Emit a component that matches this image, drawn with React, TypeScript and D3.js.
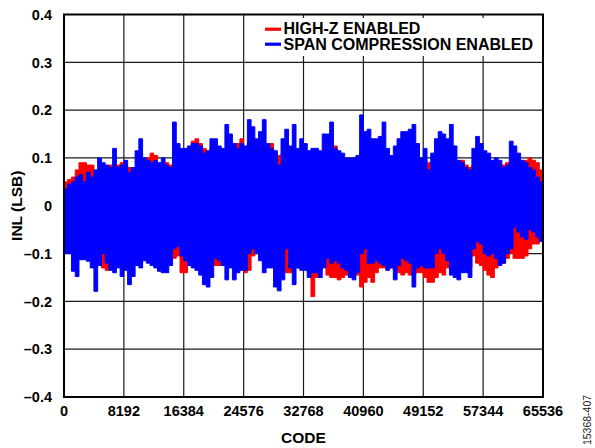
import React from "react";
import * as d3 from "d3";

// ---- data (min/max envelope per 512-code bin) ----
const BIN_SIZE = 512;
const xTicks = [0, 8192, 16384, 24576, 32768, 40960, 49152, 57344, 65536];
const yTicks = [-0.4, -0.3, -0.2, -0.1, 0, 0.1, 0.2, 0.3, 0.4];
const yTickLabels = ["–0.4", "–0.3", "–0.2", "–0.1", "0", "0.1", "0.2", "0.3", "0.4"];

const highZUpper = [
  0.05, 0.055, 0.06, 0.075, 0.09, 0.09, 0.085, 0.085, 0.07, 0.075, 0.07, 0.08, 0.085, 0.08, 0.085, 0.09, 0.085, 0.08, 0.07, 0.075, 0.11,
  0.095, 0.10, 0.11, 0.105, 0.085, 0.09, 0.09, 0.085, 0.11, 0.12, 0.115, 0.11, 0.12, 0.135, 0.14, 0.13, 0.12, 0.11, 0.12, 0.12, 0.12,
  0.11, 0.12, 0.125, 0.12, 0.13, 0.14, 0.12, 0.13, 0.12, 0.12, 0.12, 0.125, 0.12, 0.13, 0.11, 0.105, 0.11, 0.11, 0.11, 0.1, 0.1, 0.1,
  0.1, 0.1, 0.1, 0.1, 0.1, 0.105, 0.11, 0.11, 0.125, 0.105, 0.1, 0.095, 0.1, 0.1, 0.1, 0.11, 0.11, 0.11, 0.11, 0.11, 0.11, 0.11,
  0.105, 0.1, 0.1, 0.1, 0.1, 0.1, 0.1, 0.1, 0.095, 0.095, 0.095, 0.09, 0.085, 0.09, 0.09, 0.09, 0.09, 0.09, 0.09, 0.09, 0.095,
  0.085, 0.08, 0.085, 0.09, 0.09, 0.085, 0.09, 0.09, 0.09, 0.085, 0.085, 0.09, 0.095, 0.09, 0.09, 0.09, 0.095, 0.1, 0.095, 0.09, 0.075,
];
const highZLower = [
  -0.08, -0.09, -0.1, -0.11, -0.1, -0.1, -0.11, -0.11, -0.12, -0.11, -0.13, -0.135, -0.12, -0.12, -0.12, -0.12, -0.12, -0.13, -0.12, -0.11, -0.12,
  -0.11, -0.11, -0.11, -0.12, -0.12, -0.12, -0.12, -0.12, -0.11, -0.105, -0.14, -0.14, -0.12, -0.12, -0.12, -0.12, -0.12, -0.12, -0.12, -0.125, -0.125,
  -0.12, -0.12, -0.12, -0.12, -0.12, -0.125, -0.14, -0.135, -0.105, -0.1, -0.11, -0.12, -0.12, -0.125, -0.13, -0.13, -0.13, -0.14, -0.14, -0.13, -0.13, -0.13,
  -0.13, -0.14, -0.19, -0.15, -0.135, -0.125, -0.145, -0.15, -0.15, -0.155, -0.15, -0.145, -0.14, -0.145, -0.145, -0.17, -0.16, -0.15, -0.16, -0.14, -0.13, -0.13,
  -0.13, -0.13, -0.135, -0.14, -0.145, -0.14, -0.145, -0.145, -0.14, -0.14, -0.15, -0.16, -0.16, -0.15, -0.14, -0.145, -0.13, -0.13, -0.13, -0.13, -0.13,
  -0.13, -0.13, -0.105, -0.12, -0.125, -0.135, -0.145, -0.15, -0.13, -0.12, -0.12, -0.11, -0.1, -0.11, -0.11, -0.11, -0.105, -0.09, -0.08, -0.08, -0.07,
];
const spanUpper = [
  0.035, 0.045, 0.05, 0.06, 0.065, 0.05, 0.07, 0.06, 0.075, 0.1, 0.09, 0.085, 0.08, 0.12, 0.08, 0.085, 0.095, 0.07, 0.08, 0.115, 0.14,
  0.1, 0.095, 0.09, 0.095, 0.09, 0.1, 0.085, 0.08, 0.175, 0.13, 0.12, 0.12, 0.125, 0.13, 0.13, 0.125, 0.11, 0.115, 0.14, 0.14, 0.125,
  0.12, 0.17, 0.15, 0.13, 0.12, 0.13, 0.125, 0.18, 0.165, 0.14, 0.155, 0.18, 0.13, 0.12, 0.115, 0.085, 0.14, 0.16, 0.125, 0.17, 0.12, 0.14,
  0.13, 0.115, 0.12, 0.12, 0.115, 0.15, 0.15, 0.175, 0.12, 0.115, 0.11, 0.1, 0.1, 0.1, 0.105, 0.19, 0.155, 0.16, 0.14, 0.14, 0.145, 0.175,
  0.12, 0.105, 0.125, 0.14, 0.155, 0.155, 0.16, 0.17, 0.13, 0.1, 0.12, 0.075, 0.11, 0.14, 0.155, 0.15, 0.14, 0.17, 0.125, 0.095, 0.09,
  0.08, 0.075, 0.12, 0.145, 0.13, 0.115, 0.11, 0.095, 0.1, 0.095, 0.08, 0.085, 0.135, 0.125, 0.11, 0.095, 0.09, 0.08, 0.075, 0.06, 0.05,
];
const spanLower = [
  -0.1, -0.1, -0.137, -0.148, -0.113, -0.113, -0.116, -0.13, -0.179, -0.125, -0.1, -0.12, -0.135, -0.14, -0.13, -0.148, -0.135, -0.165, -0.148, -0.125, -0.13,
  -0.115, -0.12, -0.125, -0.13, -0.137, -0.14, -0.14, -0.125, -0.09, -0.085, -0.105, -0.115, -0.125, -0.13, -0.135, -0.145, -0.165, -0.17, -0.15, -0.11, -0.115,
  -0.125, -0.155, -0.13, -0.155, -0.14, -0.135, -0.135, -0.1, -0.09, -0.1, -0.115, -0.14, -0.13, -0.13, -0.17, -0.178, -0.155, -0.09, -0.13, -0.165, -0.13, -0.135,
  -0.135, -0.15, -0.14, -0.14, -0.15, -0.13, -0.11, -0.12, -0.115, -0.12, -0.13, -0.135, -0.15, -0.155, -0.14, -0.1, -0.09, -0.12, -0.12, -0.115, -0.12, -0.125,
  -0.135, -0.13, -0.155, -0.125, -0.11, -0.115, -0.12, -0.17, -0.13, -0.125, -0.13, -0.13, -0.13, -0.1, -0.09, -0.1, -0.115, -0.145, -0.15, -0.155, -0.14,
  -0.14, -0.15, -0.09, -0.075, -0.08, -0.1, -0.105, -0.1, -0.11, -0.125, -0.12, -0.1, -0.09, -0.045, -0.055, -0.065, -0.07, -0.05, -0.055, -0.065, -0.075,
];

const seriesNames = ["HIGH-Z ENABLED", "SPAN COMPRESSION ENABLED"];
const seriesColors = ["#ff0000", "#0000ff"];

// ---- layout ----
const W = 595;
const H = 448;
const L = 64;
const R = 543;
const T = 14.5;
const B = 397;
const FONT = "'Liberation Sans', Arial, Helvetica, sans-serif";

export default function App() {
  const x = d3.scaleLinear().domain([0, 65536]).range([L, R]);
  const y = d3.scaleLinear().domain([-0.4, 0.4]).range([B, T]);

  type Pt = { c: number; hi: number; lo: number };
  const build = (hi: number[], lo: number[]): Pt[] => {
    const pts: Pt[] = [];
    hi.forEach((h, i) => {
      pts.push({ c: i * BIN_SIZE, hi: h, lo: lo[i] });
      pts.push({ c: (i + 1) * BIN_SIZE, hi: h, lo: lo[i] });
    });
    return pts;
  };

  const area = d3
    .area<Pt>()
    .x((d) => x(d.c))
    .y0((d) => y(d.lo))
    .y1((d) => y(d.hi))
    .curve(d3.curveLinear);

  const series = [build(highZUpper, highZLower), build(spanUpper, spanLower)];

  return (
    <svg
      width={W}
      height={H}
      style={{ position: "absolute", left: 0, top: 0, background: "#fff" }}
      fontFamily={FONT}
    >
      <defs>
        <clipPath id="plotclip">
          <rect x={L} y={T} width={R - L} height={B - T} />
        </clipPath>
      </defs>
      <rect x={0} y={0} width={W} height={H} fill="#fff" />

      {/* grid */}
      {xTicks.map((t) => (
        <line key={"gx" + t} x1={x(t)} x2={x(t)} y1={T} y2={B} stroke="#1a1a1a" strokeWidth={1.2} />
      ))}
      {yTicks.map((t) => (
        <line key={"gy" + t} x1={L} x2={R} y1={y(t)} y2={y(t)} stroke="#1a1a1a" strokeWidth={1.2} />
      ))}

      {/* data */}
      <g clipPath="url(#plotclip)">
        {series.map((s, i) => (
          <path
            key={i}
            d={area(s) || ""}
            fill={seriesColors[i]}
            stroke={seriesColors[i]}
            strokeWidth={1}
            strokeLinejoin="miter"
          />
        ))}
      </g>

      {/* legend */}
      <rect x={262} y={18} width={279} height={38} fill="#fff" />
      {seriesNames.map((n, i) => (
        <g key={n}>
          <line x1={265} x2={281} y1={29.2 + i * 15} y2={29.2 + i * 15} stroke={seriesColors[i]} strokeWidth={3.2} />
          <text x={283.5} y={34.3 + i * 15.7} fontSize={16} fontWeight="bold" fill="#000">
            {n}
          </text>
        </g>
      ))}

      {/* frame */}
      <rect x={L} y={T} width={R - L} height={B - T} fill="none" stroke="#000" strokeWidth={2} />

      {/* tick labels */}
      {yTicks.map((t, i) => (
        <text key={"ly" + t} x={52} y={y(t)} dy="0.36em" textAnchor="end" fontSize={14.5} fontWeight="bold">
          {yTickLabels[i]}
        </text>
      ))}
      {xTicks.map((t) => (
        <text key={"lx" + t} x={x(t)} y={416} textAnchor="middle" fontSize={14.5} fontWeight="bold">
          {t}
        </text>
      ))}

      {/* axis titles */}
      <text x={(L + R) / 2} y={443} textAnchor="middle" fontSize={15.5} fontWeight="bold">
        CODE
      </text>
      <text
        transform={`translate(22,${(T + B) / 2}) rotate(-90)`}
        textAnchor="middle"
        fontSize={15.5}
        fontWeight="bold"
      >
        INL (LSB)
      </text>
      <text
        transform={`translate(591,420) rotate(-90)`}
        textAnchor="middle"
        fontSize={10.5}
        fill="#222"
      >
        15368-407
      </text>
    </svg>
  );
}
